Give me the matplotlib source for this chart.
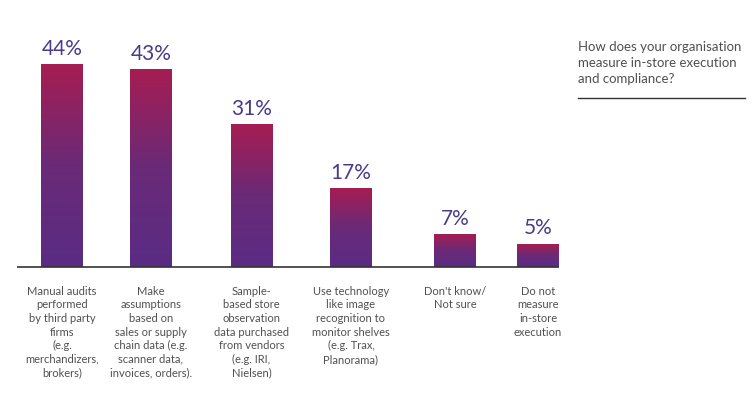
import numpy as np
import matplotlib
matplotlib.use("Agg")
import matplotlib.pyplot as plt
from matplotlib.colors import LinearSegmentedColormap

# ── data ───────────────────────────────────────────────────────────────────────
categories = [
    "Manual audits\nperformed\nby third party\nfirms\n(e.g.\nmerchandizers,\nbrokers)",
    "Make\nassumptions\nbased on\nsales or supply\nchain data (e.g.\nscanner data,\ninvoices, orders).",
    "Sample-\nbased store\nobservation\ndata purchased\nfrom vendors\n(e.g. IRI,\nNielsen)",
    "Use technology\nlike image\nrecognition to\nmonitor shelves\n(e.g. Trax,\nPlanorama)",
    "Don't know/\nNot sure",
    "Do not\nmeasure\nin-store\nexecution",
]
values = [44, 43, 31, 17, 7, 5]
question = "How does your organisation\nmeasure in-store execution\nand compliance?"

# ── layout (figure pixels) ─────────────────────────────────────────────────────
W, H = 756, 395
centers = [62, 151, 251.5, 351, 455, 538]
bar_w = 42
base_px = 267            # baseline, from top
px_per_pct = 4.6

PURPLE_TXT = "#4b3a8a"
GREY_TXT = "#505050"
grad = LinearSegmentedColormap.from_list("bar", ["#5a2c84", "#6a2a78", "#a61d52"])

plt.rcParams["font.family"] = ["Lato", "DejaVu Sans"]

fig = plt.figure(figsize=(W / 100, H / 100), dpi=100)
ax = fig.add_axes([0, (H - base_px) / H, 1, base_px / H])
ax.set_xlim(0, W)
ax.set_ylim(0, base_px / px_per_pct)
ax.axis("off")

g = np.linspace(0, 1, 256).reshape(-1, 1)
for x, v in zip(centers, values):
    ax.imshow(g, cmap=grad, origin="lower", aspect="auto",
              extent=[x - bar_w / 2, x + bar_w / 2, 0, v], zorder=2)
    ax.annotate(f"{v}%", (x, v), xytext=(0, 4), textcoords="offset points",
                ha="center", va="bottom", fontsize=15, color=PURPLE_TXT)

# baseline
ax.plot([17, centers[-1] + bar_w / 2], [0, 0], color="#333333", lw=1.2,
        zorder=3, clip_on=False, solid_capstyle="butt")

# category labels
for x, lab in zip(centers, categories):
    ax.annotate(lab, (x, 0), xytext=(0, -13.5), textcoords="offset points",
                ha="center", va="top", fontsize=8, color=GREY_TXT,
                linespacing=1.29, annotation_clip=False)

# question block on the right
fig.text(578 / W, 1 - 41 / H, question, ha="left", va="top", fontsize=9.5,
         color=GREY_TXT, linespacing=1.42)
fig.add_artist(plt.Line2D([578 / W, 745 / W], [1 - 97.5 / H] * 2,
                          color="#333333", lw=1.0))

fig.savefig("out.png", dpi=100)
